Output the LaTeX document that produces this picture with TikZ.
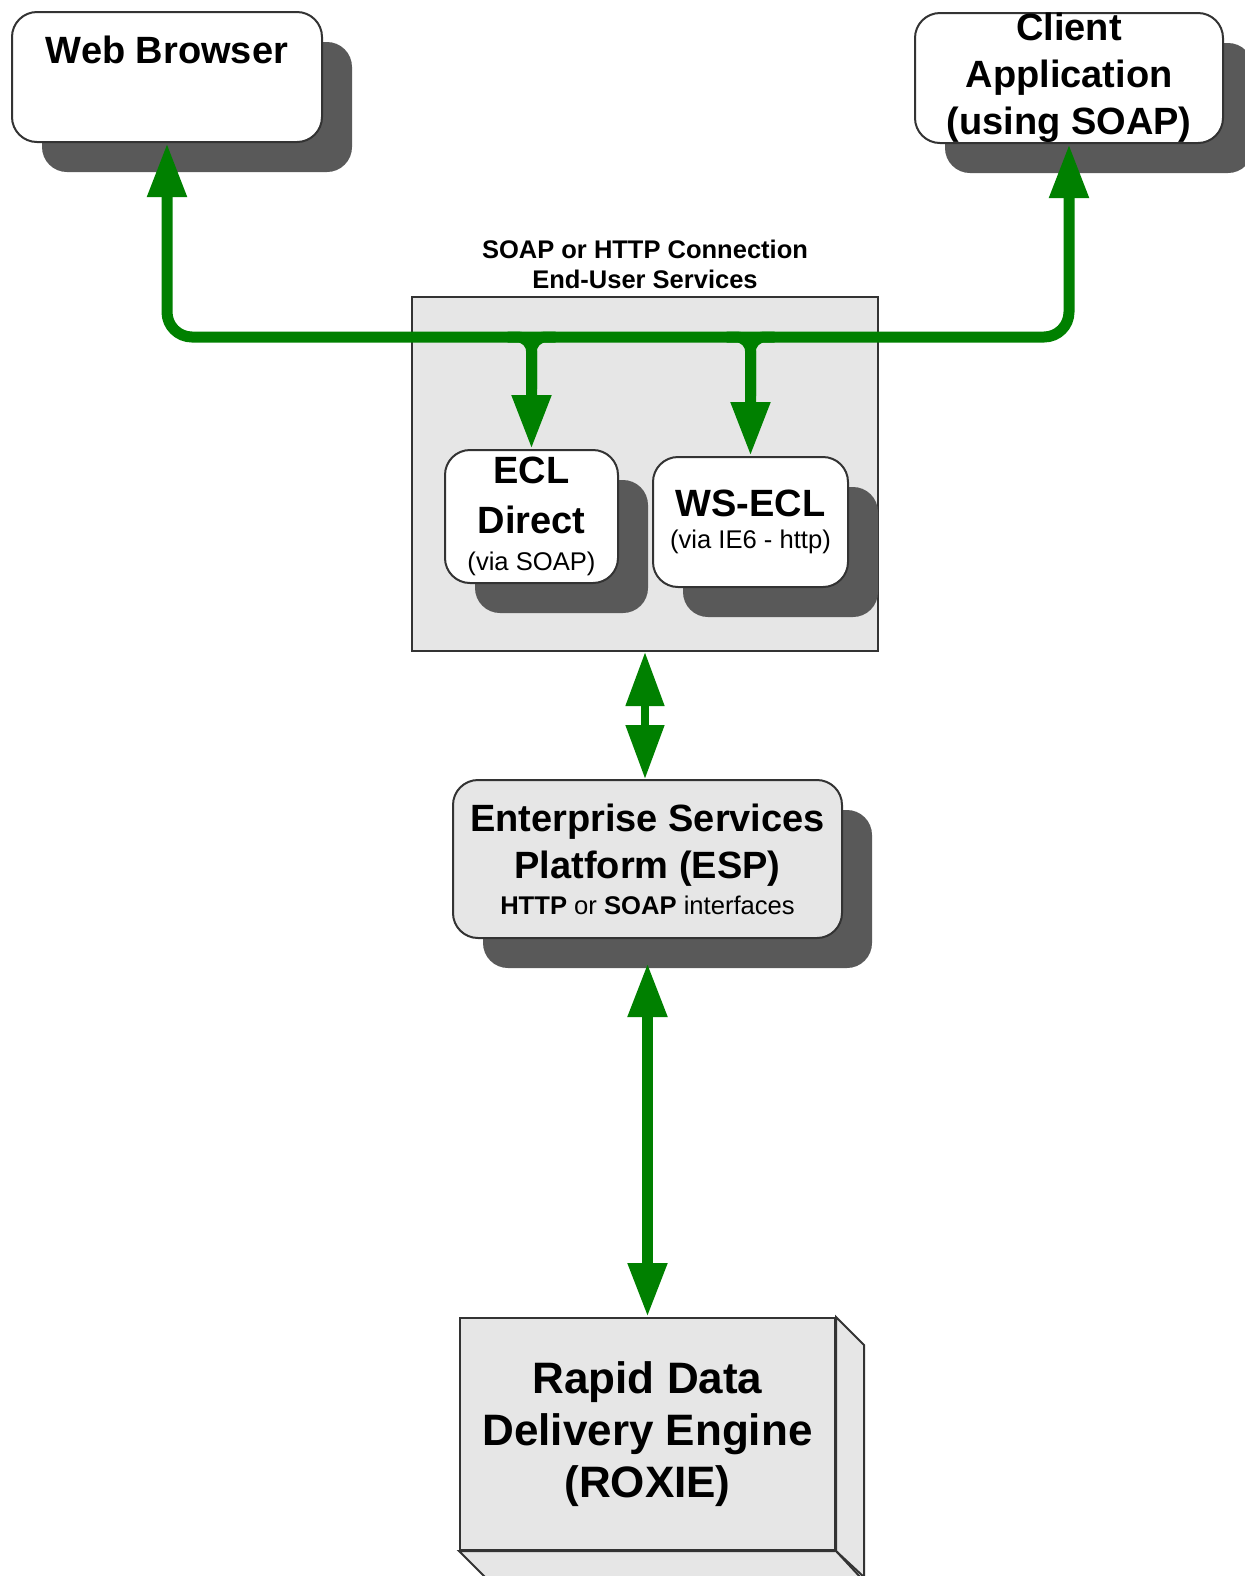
\documentclass[tikz,border=0pt]{standalone}
\usepackage{fontspec}
\setmainfont{Liberation Sans}
\usetikzlibrary{calc,arrows.meta,shadows}
\definecolor{linkgreen}{RGB}{0,128,0}
\definecolor{shade}{RGB}{89,89,89}
\definecolor{panel}{RGB}{230,230,230}
\definecolor{rim}{RGB}{51,51,51}
\def\boxfont{\fontsize{19}{23.5}\selectfont\bfseries}
\def\notefont{\fontsize{12.8}{15}\selectfont\mdseries}
\tikzset{
	box/.style={draw=rim, line width=1pt, rounded corners=12.5pt, inner sep=0pt, font=\boxfont,
		drop shadow={shadow xshift=15pt, shadow yshift=-15pt, fill=shade, opacity=1}},
	face/.style={draw=rim, line width=1pt, fill=panel},
	link/.style={draw=linkgreen, line width=5.5pt, rounded corners=12.5pt},
	oneway/.style={-{Triangle[width=18.5pt,length=27pt]}},
	twoway/.style={{Triangle[width=18.5pt,length=27pt]}-{Triangle[width=18.5pt,length=27pt]}}
}

\begin{document}
\begin{tikzpicture}[x=0.5pt, y=-0.5pt]
		%%%%% START %%%%%
		
		\fill[white] (0,0) rectangle (1244,1576);
		\useasboundingbox (0,0) rectangle (1244,1576);
		
		\node[box, fill=white, minimum width=155pt, minimum height=65pt, text height=13.5pt, text depth=27.5pt] (browser) at (167,77) {Web Browser};
		\node[box, fill=white, align=center, minimum width=154pt, minimum height=65pt] (client) at (1069,78) {Client\\Application\\(using SOAP)};
		
		\node[face, minimum width=233pt, minimum height=177pt] (services) at (645,474) {};
		\node[anchor=south, inner sep=0pt, align=center, font=\fontsize{12.75}{15}\selectfont\bfseries] (servicestitle) at ([yshift=3.5pt]services.north) {SOAP or HTTP Connection\\End-User Services};
		
		\coordinate (bus) at (645,337);
		\draw[link, twoway] (browser.south) |- (bus) -| (client.south);
		
		\node[box, fill=white, align=center, minimum width=86.5pt, minimum height=66.5pt] (ecl) at (531.5,516.5) {ECL\\[1.5pt]Direct\\[-5pt]{\notefont (via SOAP)}};
		\node[box, fill=white, align=center, minimum width=97.5pt, minimum height=65pt] (wsecl) at (750.5,522) {WS-ECL\\[-7.5pt]{\notefont (via IE6 - http)}};
		
		\draw[link, oneway, rounded corners=7pt] ($(ecl.north |- bus)+(-24,0)$) -| (ecl.north);
		\draw[link, rounded corners=7pt] ($(ecl.north |- bus)+(24,0)$) -| ($(ecl.north)+(0,-60)$);
		\draw[link, oneway, rounded corners=7pt] ($(wsecl.north |- bus)+(-24,0)$) -| (wsecl.north);
		\draw[link, rounded corners=7pt] ($(wsecl.north |- bus)+(24,0)$) -| ($(wsecl.north)+(0,-60)$);
		
		\node[box, fill=panel, align=center, minimum width=194.5pt, minimum height=79pt] (esp) at (647.5,859) {Enterprise Services\\Platform (ESP)\\[-5.5pt]{\notefont\textbf{HTTP} or \textbf{SOAP} interfaces}};
		\draw[link, twoway, line width=4pt] (services.south) -- (services.south |- esp.north);
		
		\node[face, minimum width=187.5pt, minimum height=116pt, inner sep=0pt, align=center, font=\fontsize{22}{26}\selectfont\bfseries] (roxie) at (647.5,1434) {Rapid Data\\Delivery Engine\\(ROXIE)};
		\draw[face] (roxie.north east) -- ++(28,28) -- ++(0,232) -- (roxie.south east) -- cycle;
		\draw[face] (roxie.south west) -- ++(28,28) -- ++(375,0) -- (roxie.south east) -- cycle;
		
		\draw[link, twoway] ([yshift=-12pt]esp.south) -- (roxie.north);
		
		%%%%% END %%%%%
\end{tikzpicture}
\end{document}
